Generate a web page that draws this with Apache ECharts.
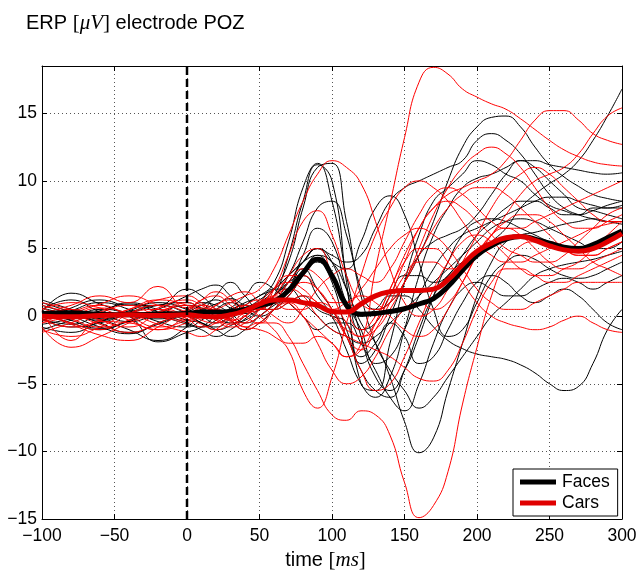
<!DOCTYPE html>
<html>
<head>
<meta charset="utf-8">
<title>ERP electrode POZ</title>
<script src="https://cdn.jsdelivr.net/npm/echarts@6/dist/echarts.min.js"></script>
<style>
html, body { margin: 0; padding: 0; background: #fff; }
#main { width: 640px; height: 576px; }
</style>
</head>
<body>
<div id="main"></div>
<script>
// time samples (ms): 20 ms steps before onset, 10 ms after
var times = [-100,-80,-60,-40,-20,0,10,20,30,40,50,60,70,80,90,100,110,120,130,140,150,160,170,180,190,200,210,220,230,240,250,260,270,280,290,300];
var xTicks = [-100,-50,0,50,100,150,200,250,300];
var yTicks = [-15,-10,-5,0,5,10,15];
var yTop = 18.5;
var onset = 0;

var facesMean = [0.2,0.25,0.15,0.1,0.15,0.2, 0.3,0.3,0.35,0.5,0.8,1.1,1.9,3.2,4.2,3.0, 0.8,0.15,0.2,0.35,0.55,0.9,1.3,2.2,3.4,4.5, 5.2,5.7,5.9,5.7,5.4,5.1,5.0,5.3,5.8,6.3];
var carsMean = [0.0,-0.05,0.05,0.1,0.05,0.1, 0.0,-0.05,0.1,0.4,0.9,1.2,1.2,1.0,0.8,0.35, 0.3,0.9,1.5,1.8,1.9,1.9,2.0,2.7,3.8,4.8, 5.4,5.8,5.9,5.6,5.2,4.9,4.8,5.0,5.5,6.1];

// single trials, faces
var facesTrials = [
  [0.5,1.2,0.3,-0.4,0.2,0.8, 0.6,0.2,0.5,1.0,1.5,2.5,5.5,9.5,11.3,8.5, 3.0,-1.5,-4.5,-5.5,-4.0,-1.5,1.5,4.0,6.0,7.0, 7.2,7.0,6.5,6.0,5.5,5.2,5.0,5.2,5.5,6.0],
  [-0.6,-0.2,0.4,0.9,0.3,-0.5, -0.8,-0.3,0.4,0.8,0.6,1.5,4.5,8.5,11.2,10.0, 2.5,-5.0,-5.5,-2.0,2.5,6.0,8.5,9.5,10.5,11.5, 11.2,10.5,10.0,9.0,8.2,7.8,7.5,7.8,8.2,8.5],
  [0.2,-0.5,-1.0,-0.3,0.5,1.5, 2.0,2.3,1.5,0.5,1.0,2.0,4.0,8.0,11.0,11.3, 7.0,2.0,0.5,1.0,2.5,4.5,7.0,10.0,12.5,14.0, 14.7,14.8,14.0,12.5,11.2,10.3,9.6,9.0,8.7,8.5],
  [1.0,0.3,-0.5,-1.2,-0.6,0.3, 0.8,1.2,0.6,0.2,0.8,1.5,3.0,5.5,8.0,8.5, 6.0,1.5,-2.0,-4.0,-5.5,-6.8,-6.0,-4.5,-3.0,-1.5, 0.0,1.0,2.0,3.0,3.5,3.8,4.0,4.2,4.5,4.8],
  [-0.3,0.4,1.0,0.5,-0.4,-0.8, -0.3,0.5,1.0,0.5,0.0,0.5,1.5,3.0,4.5,4.0, 2.0,-0.5,-2.0,-4.5,-7.8,-10.1,-9.0,-5.5,-2.0,1.5, 4.0,5.5,6.0,6.2,6.5,6.8,7.0,7.2,7.0,6.8],
  [0.8,0.2,-0.3,0.4,1.0,0.5, 0.0,-0.5,0.0,0.8,1.5,2.0,3.0,4.0,4.5,3.0, 1.0,0.0,0.5,1.5,1.5,0.5,-0.8,-1.8,-2.4,-2.8, -3.0,-3.2,-3.6,-4.2,-5.0,-5.5,-5.2,-3.5,-1.0,0.5],
  [-0.8,-1.2,-0.4,0.3,0.0,-0.6, -1.0,-1.5,-1.0,-0.2,0.5,1.0,2.0,3.5,2.0,0.5, -1.5,-4.0,-5.5,-6.0,-4.0,-1.0,1.5,3.0,4.0,4.5, 5.5,6.5,8.0,9.0,9.8,10.5,11.5,13.0,14.8,16.8],
  [0.3,1.7,0.9,0.2,-0.2,0.4, 1.0,0.8,0.2,-0.5,0.0,1.0,2.5,4.0,5.0,4.0, 3.5,5.5,8.0,8.9,7.5,4.0,0.5,-1.5,-1.0,1.0, 3.0,4.0,4.5,4.2,3.5,3.0,2.8,3.0,3.5,4.0],
  [-0.2,-0.8,-0.5,0.2,0.8,1.0, 0.5,0.0,-0.5,-0.3,0.5,1.5,2.5,3.0,1.5,0.0, -2.5,-5.0,-6.0,-4.5,-1.0,3.0,6.0,8.0,9.5,10.2, 10.5,11.0,11.5,11.5,11.2,11.0,10.8,10.6,10.5,10.6],
  [0.6,0.0,-0.8,-1.3,-0.5,0.2, 0.5,0.9,1.3,0.8,0.5,1.5,2.5,4.0,5.0,4.5, 4.0,4.5,6.5,8.5,9.5,10.0,10.5,11.0,11.5,13.0, 13.5,13.0,12.0,10.5,9.0,8.0,7.5,7.2,7.0,7.0],
  [-1.0,-0.3,0.5,0.0,-1.9,-1.2, -0.8,0.0,0.6,1.5,2.5,2.0,1.0,0.0,-1.0,-0.5, -0.5,-2.0,-4.0,-6.0,-7.0,-5.0,-2.0,0.5,2.0,2.5, 2.0,1.5,1.5,2.0,2.5,2.8,2.5,2.0,2.5,3.0],
  [0.0,0.5,-0.2,-1.0,-1.8,-0.8, 0.3,1.5,2.5,1.5,0.5,0.5,1.0,1.5,0.5,0.0, -0.5,-3.5,-2.5,0.0,2.5,4.5,5.5,6.0,6.5,7.5, 9.0,10.5,11.5,11.0,10.0,9.0,8.0,7.8,7.5,7.2],
  [0.4,-0.3,-0.9,-0.4,0.3,-0.3, -0.5,-1.0,-1.5,-1.0,0.0,0.8,1.5,3.0,4.0,2.5, -1.0,-3.0,-2.0,-0.5,-1.5,-3.5,-3.0,-1.0,1.0,2.5, 3.0,2.5,1.5,1.0,1.5,2.0,1.5,0.5,-0.5,-1.0],
  [-0.4,0.6,1.2,0.8,0.8,2.0, 1.5,0.5,-0.3,-1.0,-0.5,0.5,2.0,4.5,6.5,5.5, 2.0,-1.0,-0.5,1.5,3.0,3.0,2.5,3.0,4.5,6.0, 7.0,8.0,8.5,8.5,8.0,7.5,7.5,8.0,8.0,8.0],
  [1.2,0.5,-0.2,0.3,0.8,0.2, -0.5,-0.8,-0.2,0.5,1.2,2.0,3.0,4.0,5.0,4.0, 1.0,-1.0,-3.5,-3.0,-1.0,1.5,3.5,5.0,6.0,6.5, 7.0,7.5,8.0,8.5,8.8,8.8,8.5,8.2,8.0,8.2],
  [-0.2,-0.6,0.2,1.0,0.5,0.0, -0.5,-1.0,-0.7,0.0,1.0,2.0,2.0,1.0,0.0,-1.0, -1.5,-2.0,-1.5,-0.5,0.5,1.5,2.5,3.5,4.5,5.5, 6.5,7.0,7.2,7.0,6.5,6.0,5.5,5.0,5.0,5.5]
];

// single trials, cars
var carsTrials = [
  [0.3,-0.5,-1.0,0.2,0.8,0.3, -0.3,-0.5,0.0,0.5,0.0,-1.0,-2.0,-2.0,-1.5,-2.0, -3.0,-2.0,3.5,8.3,13.2,17.3,18.4,17.9,16.8,16.2, 15.7,15.3,14.6,13.8,13.0,12.3,11.8,11.4,11.2,11.1],
  [-0.5,0.3,0.8,0.0,-0.8,-0.3, 0.3,0.5,0.0,-0.8,-0.5,-0.5,-1.5,-3.5,-5.5,-7.3, -7.7,-7.0,-7.3,-8.8,-12.3,-14.9,-14.0,-11.5,-6.5,-2.3, 1.5,4.0,5.2,5.5,5.5,5.0,4.5,4.5,5.0,5.5],
  [0.8,0.2,-0.6,-1.2,-0.5,0.4, 0.8,0.5,-0.3,-0.8,-1.0,-1.5,-2.5,-5.5,-6.8,-4.5, -0.5,3.0,6.0,8.0,9.5,10.0,9.5,8.5,7.0,5.5, 4.5,4.0,4.0,4.5,5.0,5.5,6.0,6.5,6.8,7.0],
  [-0.2,-0.8,-0.3,0.5,1.2,0.8, 0.2,0.5,1.0,1.5,2.0,3.5,6.0,8.5,10.5,11.5, 11.0,9.8,7.0,3.5,1.0,0.0,0.5,2.0,4.0,6.0, 8.0,9.5,10.5,11.0,10.5,9.5,8.5,7.5,7.0,7.0],
  [0.5,1.0,0.6,-0.3,-1.0,-0.5, 0.0,0.8,1.2,0.6,0.5,2.0,4.5,7.0,7.8,6.0, 3.0,1.0,0.5,1.0,2.5,4.5,6.5,8.0,9.0,9.5, 9.5,9.0,8.0,7.0,6.0,5.0,4.5,4.5,5.0,5.5],
  [-1.0,-1.5,-0.8,0.2,0.5,-0.2, -0.8,-0.5,0.3,0.8,0.5,0.5,1.0,1.5,1.0,0.0, -1.0,-1.5,-0.5,1.5,4.0,6.5,8.0,9.0,9.5,10.0, 10.5,11.5,13.0,14.5,15.2,15.2,14.5,13.5,13.0,12.7],
  [0.2,0.8,1.5,1.0,2.2,0.6, 1.2,1.5,0.8,0.0,-0.5,0.5,1.5,2.5,2.0,0.5, -1.5,-2.5,-1.0,1.0,3.0,4.0,4.0,3.5,3.5,4.5, 6.0,7.5,9.0,10.0,10.5,11.0,12.0,13.5,14.8,15.4],
  [-0.3,0.2,0.9,1.5,0.8,0.0, -0.6,-1.0,-0.5,0.3,1.0,1.5,2.0,1.5,0.0,-1.0, -1.5,-2.0,-2.5,-3.0,-3.8,-4.6,-4.8,-4.0,-2.0,0.5, 2.5,3.5,3.5,3.0,2.5,2.5,3.0,3.5,4.0,4.5],
  [0.6,-0.2,-0.8,-0.3,0.6,1.2, 0.8,0.2,-0.3,0.0,0.8,1.5,1.0,0.0,-1.0,-2.0, -3.0,-2.5,-0.5,2.0,4.0,5.0,5.0,4.0,2.5,1.0, 0.0,-0.5,-0.8,-1.0,-0.8,-0.3,0.0,-0.5,-1.0,-1.2],
  [-0.8,-2.3,-1.5,-0.5,0.3,0.8, 0.3,-0.3,-0.8,-0.5,0.5,2.0,3.0,3.0,2.0,1.0, 1.0,2.0,3.5,5.0,6.0,6.5,6.0,5.0,3.5,2.0, 1.0,0.5,0.5,1.0,1.5,2.0,2.5,2.5,2.5,2.5],
  [1.0,0.5,0.0,0.5,1.2,1.5, 1.0,0.3,-0.2,-0.5,0.0,1.0,2.5,3.5,3.0,1.5, -0.5,-1.5,-1.0,0.5,2.5,5.0,7.5,9.5,11.0,12.0, 12.5,12.0,11.0,9.5,8.0,7.0,6.5,6.5,7.0,7.5],
  [-0.5,0.0,0.6,0.2,-0.6,-1.2, -1.5,-1.0,0.0,0.8,1.2,1.0,0.5,0.5,1.0,0.5, -1.5,-4.0,-5.5,-5.0,-3.0,-0.5,2.0,4.0,5.5,6.0, 5.5,4.5,3.5,3.0,3.0,3.5,4.0,5.0,6.0,7.0],
  [0.2,-0.6,-1.4,-1.8,-0.8,0.5, 1.2,1.8,1.2,0.3,0.5,1.5,3.0,4.5,5.0,3.0, 0.5,-1.0,0.0,2.0,4.5,6.5,8.0,8.5,8.0,7.0, 6.0,5.0,4.5,4.0,4.0,4.5,5.5,6.5,7.5,8.0],
  [-1.2,-0.5,0.3,0.8,0.0,-0.3, 0.2,0.8,1.5,1.8,1.0,0.0,-0.5,0.5,2.0,3.0, 3.5,3.0,2.5,3.5,5.5,7.5,9.0,9.5,9.0,8.0, 7.0,6.5,6.5,7.0,7.5,8.0,8.5,9.0,9.5,10.0],
  [0.4,-1.8,-0.4,-0.5,-1.0,0.0, 0.6,0.3,-0.4,-1.0,-0.5,0.5,1.0,0.0,-2.0,-4.0, -5.0,-4.5,-3.0,-1.0,0.5,1.0,0.5,1.0,2.5,4.5, 6.0,6.5,6.0,5.0,4.0,3.5,3.5,4.0,4.5,5.0],
  [0.0,0.5,-0.3,-0.8,0.2,1.0, 0.5,-0.2,-0.6,0.0,1.0,2.0,2.5,2.0,1.0,0.5, 1.0,1.5,1.0,0.0,-1.0,-1.5,-1.0,0.5,2.5,4.5, 6.0,7.0,7.5,7.5,7.0,6.0,5.0,4.0,3.5,3.0]
];

var font = 'Liberation Sans, Helvetica, Arial, sans-serif';
var serif = 'Liberation Serif, DejaVu Serif, serif';

function pairs(vals) {
  var out = [];
  for (var i = 0; i < times.length; i++) out.push([times[i], vals[i]]);
  return out;
}
function tickText(list) {
  return function (v) {
    return list.indexOf(v) >= 0 ? String(v).replace('-', '\u2212') : '';
  };
}
// text with a latex-like unit in square brackets
var mathRich = {
  a: { fontFamily: font, fontSize: 20, fontWeight: 'normal', color: '#000' },
  b: { fontFamily: serif, fontSize: 21, fontWeight: 'normal', color: '#000' },
  c: { fontFamily: serif, fontStyle: 'italic', fontSize: 21, fontWeight: 'normal', color: '#000' }
};

var series = [];
facesTrials.forEach(function (tr, i) {
  series.push({
    name: 'face trial ' + (i + 1), type: 'line', data: pairs(tr),
    smooth: true, symbol: 'none', silent: true, color: '#000',
    lineStyle: { color: '#000', width: 1 }
  });
});
carsTrials.forEach(function (tr, i) {
  series.push({
    name: 'car trial ' + (i + 1), type: 'line', data: pairs(tr),
    smooth: true, symbol: 'none', silent: true, color: '#ff0000',
    lineStyle: { color: '#ff0000', width: 1 }
  });
});
series.push({
  name: 'Faces', type: 'line', data: pairs(facesMean),
  smooth: true, symbol: 'none', color: '#000',
  lineStyle: { color: '#000', width: 5 }
});
series.push({
  name: 'Cars', type: 'line', data: pairs(carsMean),
  smooth: true, symbol: 'none', color: '#e00000',
  lineStyle: { color: '#e00000', width: 5 }
});
// stimulus onset
series.push({
  name: 'onset', type: 'line', data: [[onset, yTicks[0]], [onset, yTop]],
  symbol: 'none', silent: true,
  lineStyle: { color: '#000', width: 2.5, type: [8, 4] }
});

var chart = echarts.init(document.getElementById('main'));
chart.setOption({
  animation: false,
  backgroundColor: '#fff',
  title: {
    text: '{a|ERP }{b|[}{c|\u03bcV}{b|]}{a| electrode POZ}',
    left: 21, top: 8,
    textStyle: { fontWeight: 'normal', rich: mathRich }
  },
  legend: {
    data: ['Faces', 'Cars'],
    orient: 'vertical',
    left: 513, top: 469,
    icon: 'rect', itemWidth: 36, itemHeight: 5, itemGap: 3,
    padding: [4, 8, 4, 7],
    backgroundColor: '#fff', borderColor: '#000', borderWidth: 1, borderRadius: 0,
    textStyle: { fontFamily: font, fontSize: 17.5, color: '#000', padding: [0, 0, 0, 1] }
  },
  grid: { left: 42, right: 18, top: 66, bottom: 53 },
  xAxis: [{
    type: 'value',
    min: xTicks[0], max: xTicks[xTicks.length - 1], interval: xTicks[1] - xTicks[0],
    name: '{a|time }{b|[}{c|ms}{b|]}',
    nameLocation: 'middle', nameGap: 31,
    nameTextStyle: { padding: [0, 13, 0, 0], rich: mathRich },
    axisLine: { show: true, onZero: false, lineStyle: { color: '#000', width: 1 } },
    axisTick: { inside: true, length: 5, lineStyle: { color: '#000' } },
    axisLabel: { formatter: tickText(xTicks), fontFamily: font, fontSize: 17.5, color: '#000', margin: 8 },
    splitLine: { show: true, lineStyle: { color: '#555', width: 1, type: [1, 3] } }
  }, {
    type: 'value', position: 'top',
    min: xTicks[0], max: xTicks[xTicks.length - 1], interval: xTicks[1] - xTicks[0],
    axisLine: { show: true, onZero: false, lineStyle: { color: '#000', width: 1 } },
    axisTick: { inside: true, length: 5, lineStyle: { color: '#000' } },
    axisLabel: { show: false },
    splitLine: { show: false }
  }],
  yAxis: [{
    type: 'value',
    min: yTicks[0], max: yTop, interval: yTicks[1] - yTicks[0],
    axisLine: { show: true, onZero: false, lineStyle: { color: '#000', width: 1 } },
    axisTick: { inside: true, length: 5, lineStyle: { color: '#000' } },
    axisLabel: { formatter: tickText(yTicks), fontFamily: font, fontSize: 17.5, color: '#000', margin: 5 },
    splitLine: { show: true, lineStyle: { color: '#555', width: 1, type: [1, 3] } }
  }, {
    type: 'value', position: 'right',
    min: yTicks[0], max: yTop, interval: yTicks[1] - yTicks[0],
    axisLine: { show: true, onZero: false, lineStyle: { color: '#000', width: 1 } },
    axisTick: { inside: true, length: 5, lineStyle: { color: '#000' } },
    axisLabel: { show: false },
    splitLine: { show: false }
  }],
  series: series
});
</script>
</body>
</html>
